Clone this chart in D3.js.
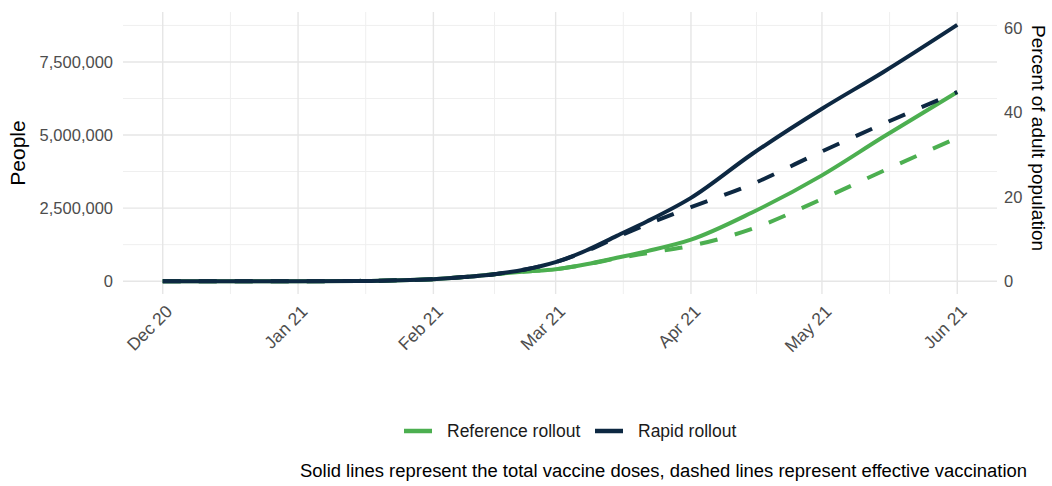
<!DOCTYPE html>
<html lang="en">
<head>
  <meta charset="utf-8">
    <title>Vaccine rollout scenarios</title>
    <script type="text/javascript" src="https://d3js.org/d3.v7.min.js"></script>
    <style type="text/css">
      body { margin: 0; background: #fff; }
      text { font-family: "Liberation Sans", Arial, sans-serif; }
    </style>
</head>
<body>
  <script type="text/javascript">

        // dates of the readings (yyyy-mm-dd)
        var dates = ["2020-12-01","2020-12-15","2021-01-01","2021-01-15","2021-02-01","2021-02-08",
                     "2021-02-15","2021-02-22","2021-03-01","2021-03-08","2021-03-15","2021-03-22",
                     "2021-04-01","2021-04-15","2021-05-01","2021-05-15","2021-06-01"];

        // people, in millions
        var refTotal      = [0, 0, 0, 0.01, 0.07, 0.14, 0.24, 0.33, 0.41, 0.58, 0.80, 1.03, 1.42, 2.35, 3.62, 4.93, 6.47];
        var refEffective  = [0, 0, 0, 0.01, 0.07, 0.14, 0.24, 0.33, 0.41, 0.57, 0.78, 0.96, 1.21, 1.79, 2.81, 3.77, 4.90];
        var rapidTotal    = [0, 0, 0, 0.01, 0.07, 0.14, 0.24, 0.40, 0.65, 1.05, 1.55, 2.05, 2.85, 4.35, 5.90, 7.15, 8.77];
        var rapidEffective= [0, 0, 0, 0.01, 0.07, 0.14, 0.24, 0.40, 0.65, 1.03, 1.50, 1.95, 2.53, 3.32, 4.44, 5.38, 6.47];

        var leftTicks  = [0, 2500000, 5000000, 7500000];
        var rightTicks = [0, 20, 40, 60];
        var adultPop = 14440000;

        var seriesNames = ["Reference rollout", "Rapid rollout"];
        var seriesColors = ["#4caf50", "#0d2842"];

        var width = 1052, height = 486;
        var padL = 123, padR = 997, padT = 12, padB = 294;

        var parse = d3.timeParse("%Y-%m-%d");
        var t = dates.map(parse);

        var x0 = t[0], x1 = t[t.length - 1];
        var xpad = (x1 - x0) * 0.05;
        var x = d3.scaleTime()
            .domain([new Date(+x0 - xpad), new Date(+x1 + xpad)])
            .range([padL, padR]);

        var ymax = d3.max(rapidTotal) * 1e6;
        var y = d3.scaleLinear()
            .domain([-ymax * 0.05, ymax * 1.05])
            .range([padB, padT]);

        var y2 = d3.scaleLinear()
            .domain(y.domain().map(function(v) { return v / adultPop * 100; }))
            .range([padB, padT]);

        var svg = d3.select("body")
            .append("svg")
            .attr("width", width)
            .attr("height", height);

        // grid
        var grid = svg.append("g");
        var monthTicks = d3.timeMonth.range(x0, d3.timeDay.offset(x1, 1));
        var midTicks = monthTicks.slice(0, -1).map(function(d, i) {
            return new Date((+d + +monthTicks[i + 1]) / 2);
        });
        var minorY = leftTicks.map(function(v) { return v + 1250000; });

        grid.selectAll(".vminor").data(midTicks).enter().append("line")
            .attr("x1", function(d) { return x(d); }).attr("x2", function(d) { return x(d); })
            .attr("y1", padT).attr("y2", padB)
            .attr("stroke", "#efefef").attr("stroke-width", 1);
        grid.selectAll(".hminor").data(minorY).enter().append("line")
            .attr("x1", padL).attr("x2", padR)
            .attr("y1", function(d) { return y(d); }).attr("y2", function(d) { return y(d); })
            .attr("stroke", "#efefef").attr("stroke-width", 1);
        grid.selectAll(".vmajor").data(monthTicks).enter().append("line")
            .attr("x1", function(d) { return x(d); }).attr("x2", function(d) { return x(d); })
            .attr("y1", padT).attr("y2", padB)
            .attr("stroke", "#e6e6e6").attr("stroke-width", 1.4);
        grid.selectAll(".hmajor").data(leftTicks).enter().append("line")
            .attr("x1", padL).attr("x2", padR)
            .attr("y1", function(d) { return y(d); }).attr("y2", function(d) { return y(d); })
            .attr("stroke", "#e6e6e6").attr("stroke-width", 1.4);

        // axes text
        var fmt = d3.format(",");
        svg.selectAll(".ly").data(leftTicks).enter().append("text")
            .attr("x", padL - 10).attr("y", function(d) { return y(d); })
            .attr("dy", "0.35em").attr("text-anchor", "end")
            .attr("font-size", 16.5).attr("fill", "#4d4d4d")
            .text(function(d) { return fmt(d); });

        svg.selectAll(".ry").data(rightTicks).enter().append("text")
            .attr("x", padR + 7).attr("y", function(d) { return y2(d); })
            .attr("dy", "0.35em").attr("text-anchor", "start")
            .attr("font-size", 16.5).attr("fill", "#4d4d4d")
            .text(function(d) { return d; });

        var mfmt = d3.timeFormat("%b %y");
        svg.selectAll(".xl").data(monthTicks).enter().append("text")
            .attr("transform", function(d) { return "translate(" + (x(d) + 2) + "," + (padB + 10) + ") rotate(-45)"; })
            .attr("text-anchor", "end").attr("dy", "0.7em")
            .attr("font-size", 17.5).attr("fill", "#4d4d4d")
            .text(function(d) { return mfmt(d); });

        svg.append("text")
            .attr("transform", "translate(25," + ((padT + padB) / 2) + ") rotate(-90)")
            .attr("text-anchor", "middle")
            .attr("font-size", 21).attr("fill", "#000")
            .text("People");

        svg.append("text")
            .attr("transform", "translate(1032," + 138 + ") rotate(90)")
            .attr("text-anchor", "middle")
            .attr("font-size", 19).attr("fill", "#000")
            .text("Percent of adult population");

        // lines
        var line = function(vals) {
            return d3.line()
                .x(function(d, i) { return x(t[i]); })
                .y(function(d) { return y(d * 1e6); })
                .curve(d3.curveMonotoneX)(vals);
        };

        var series = [
            {vals: refEffective, color: seriesColors[0], dash: "18,18"},
            {vals: refTotal, color: seriesColors[0], dash: null},
            {vals: rapidEffective, color: seriesColors[1], dash: "18,18"},
            {vals: rapidTotal, color: seriesColors[1], dash: null}
        ];
        svg.selectAll(".series").data(series).enter().append("path")
            .attr("d", function(d) { return line(d.vals); })
            .attr("fill", "none")
            .attr("stroke", function(d) { return d.color; })
            .attr("stroke-width", 4)
            .attr("stroke-dasharray", function(d) { return d.dash; });

        // legend
        var legX = [404, 595];
        var leg = svg.selectAll(".leg").data(seriesNames).enter().append("g")
            .attr("transform", function(d, i) { return "translate(" + legX[i] + ",431)"; });
        leg.append("line")
            .attr("x1", 0).attr("x2", 28).attr("y1", 0).attr("y2", 0)
            .attr("stroke", function(d, i) { return seriesColors[i]; })
            .attr("stroke-width", 4.5);
        leg.append("text")
            .attr("x", 43).attr("dy", "0.35em")
            .attr("font-size", 17.5).attr("fill", "#1a1a1a")
            .text(function(d) { return d; });

        // caption
        svg.append("text")
            .attr("x", 1027).attr("y", 477)
            .attr("text-anchor", "end")
            .attr("font-size", 18).attr("fill", "#000")
            .attr("textLength", 727).attr("lengthAdjust", "spacingAndGlyphs")
            .text("Solid lines represent the total vaccine doses, dashed lines represent effective vaccination");

  </script>
</body>
</html>
